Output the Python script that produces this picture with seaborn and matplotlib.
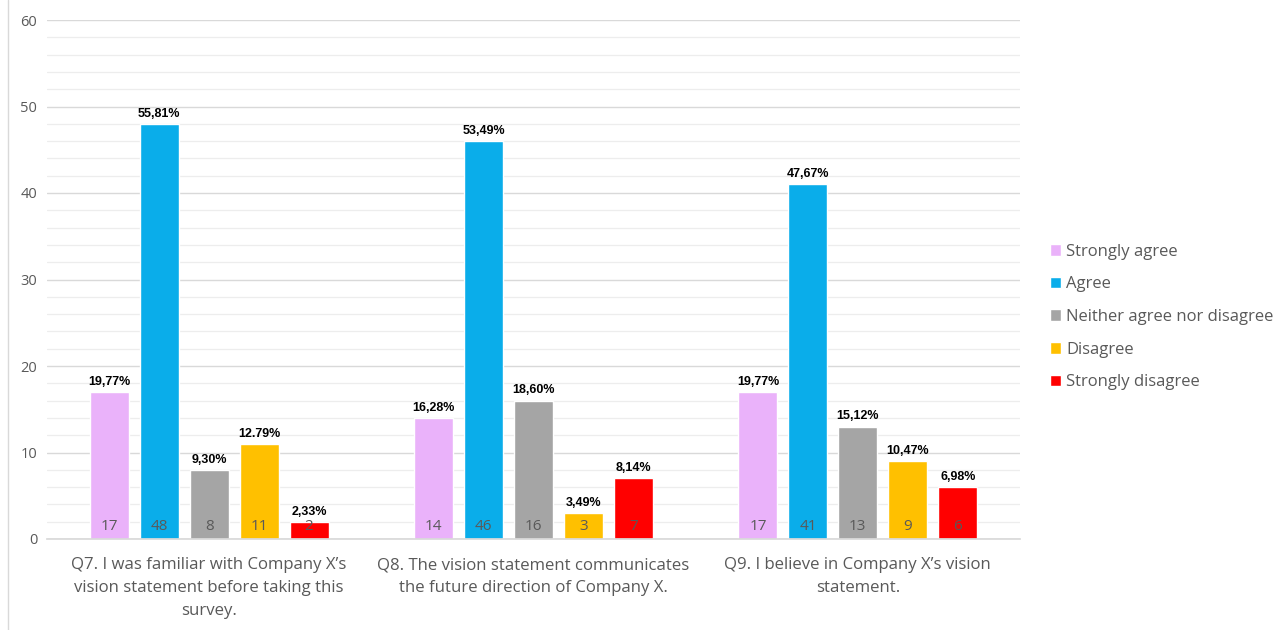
import matplotlib
matplotlib.use("Agg")
import matplotlib.pyplot as plt
from matplotlib.lines import Line2D
from matplotlib.ticker import MultipleLocator
import seaborn as sns
import pandas as pd

questions = [
    "Q7. I was familiar with Company X\u2019s\nvision statement before taking this\nsurvey.",
    "Q8. The vision statement communicates\nthe future direction of Company X.",
    "Q9. I believe in Company X\u2019s vision\nstatement.",
]
responses = ["Strongly agree", "Agree", "Neither agree nor disagree",
             "Disagree", "Strongly disagree"]
counts = {
    "Strongly agree": [17, 14, 17],
    "Agree": [48, 46, 41],
    "Neither agree nor disagree": [8, 16, 13],
    "Disagree": [11, 3, 9],
    "Strongly disagree": [2, 7, 6],
}
pct_labels = {
    "Strongly agree": ["19,77%", "16,28%", "19,77%"],
    "Agree": ["55,81%", "53,49%", "47,67%"],
    "Neither agree nor disagree": ["9,30%", "18,60%", "15,12%"],
    "Disagree": ["12.79%", "3,49%", "10,47%"],
    "Strongly disagree": ["2,33%", "8,14%", "6,98%"],
}
colors = ["#EAB2FA", "#0AADEA", "#A5A5A5", "#FFC000", "#FF0000"]

rows = []
for r in responses:
    for qi, q in enumerate(questions):
        rows.append({"question": q, "response": r, "count": counts[r][qi],
                     "pct": pct_labels[r][qi]})
df = pd.DataFrame(rows)

sns.set_theme(style="white")
plt.rcParams["font.family"] = ["Open Sans", "DejaVu Sans"]

fig = plt.figure(figsize=(12.77, 6.3), dpi=100)
ax = fig.add_axes([47 / 1277, 1 - 539 / 630, 973 / 1277, 519 / 630])

sns.barplot(data=df, x="question", y="count", hue="response",
            hue_order=responses, order=questions, palette=colors,
            width=0.77, gap=0.22, saturation=1, ax=ax, legend=True,
            errorbar=None)

ax.set_ylim(0, 60)
ax.set_xlim(-0.5, 2.5)
ax.yaxis.set_major_locator(MultipleLocator(10))
ax.yaxis.set_minor_locator(MultipleLocator(2))
ax.grid(axis="y", which="major", color="#D9D9D9", linewidth=1.0, zorder=0)
ax.grid(axis="y", which="minor", color="#EDEDED", linewidth=0.9, zorder=0)
ax.set_axisbelow(True)
for s in ["top", "right", "left"]:
    ax.spines[s].set_visible(False)
ax.spines["bottom"].set_color("#D9D9D9")
ax.tick_params(axis="y", which="both", length=0, labelsize=10.5,
               labelcolor="#595959", pad=7)
ax.tick_params(axis="x", length=0, labelsize=12.1, labelcolor="#595959", pad=13)
for t in ax.get_xticklabels():
    t.set_linespacing(1.6)
ax.set_xlabel("")
ax.set_ylabel("")

for container, r in zip(ax.containers, responses):
    for bar, cnt, lab in zip(container, counts[r], pct_labels[r]):
        cx = bar.get_x() + bar.get_width() / 2
        ax.annotate(lab, (cx, bar.get_height()), xytext=(0, 3),
                    textcoords="offset points", ha="center", va="bottom",
                    fontsize=9, fontweight="bold", color="black",
                    family=["Liberation Sans", "DejaVu Sans"])
        ax.annotate(str(cnt), (cx, 0), xytext=(0, 3.5),
                    textcoords="offset points", ha="center", va="bottom",
                    fontsize=11, color="#595959")

leg = ax.legend(loc="center left", bbox_to_anchor=(1.015, 0.428), frameon=False,
                fontsize=12, handlelength=0.7, handleheight=0.7,
                handletextpad=0.3, labelspacing=1.0)
for t in leg.get_texts():
    t.set_color("#595959")

fig.add_artist(Line2D([8 / 1277, 8 / 1277], [0, 1], color="#D9D9D9",
                      linewidth=1, transform=fig.transFigure))

fig.savefig("out.png", dpi=100, facecolor="white")
